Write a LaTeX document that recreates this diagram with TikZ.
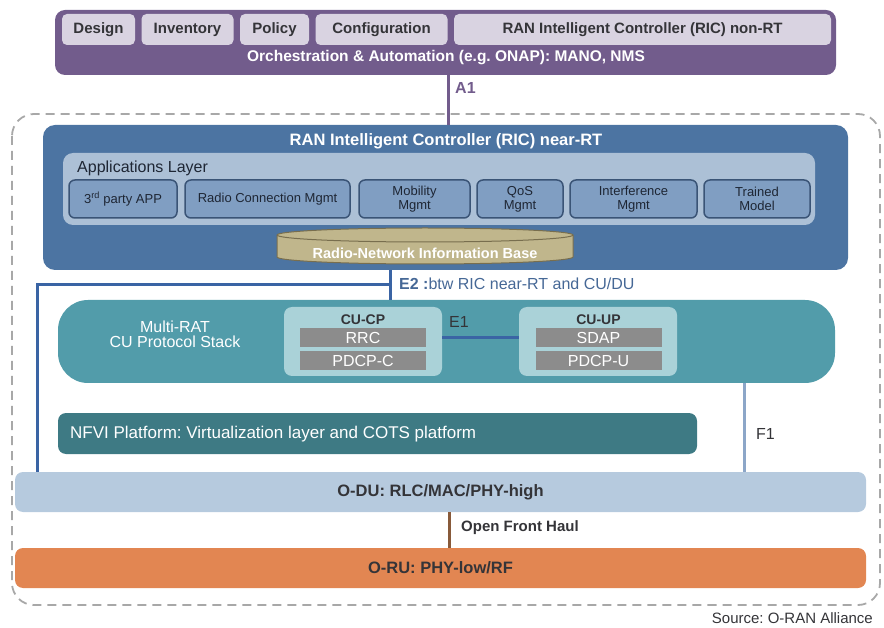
\documentclass[tikz,border=0pt]{standalone}
\usepackage{fontspec}
\setmainfont{Liberation Sans}
\usetikzlibrary{positioning}
\frenchspacing

\definecolor{orchpurple}{RGB}{114,92,140}
\definecolor{lavender}{RGB}{217,211,225}
\definecolor{darktext}{RGB}{52,52,56}
\definecolor{dashgray}{RGB}{168,168,168}
\definecolor{ricblue}{RGB}{76,116,162}
\definecolor{layerblue}{RGB}{172,192,214}
\definecolor{appfill}{RGB}{128,158,194}
\definecolor{appedge}{RGB}{58,84,118}
\definecolor{apptext}{RGB}{30,38,52}
\definecolor{rnibtan}{RGB}{192,182,140}
\definecolor{rnibedge}{RGB}{120,110,78}
\definecolor{e2blue}{RGB}{58,100,164}
\definecolor{e2text}{RGB}{70,104,150}
\definecolor{cuteal}{RGB}{82,156,170}
\definecolor{culight}{RGB}{170,210,216}
\definecolor{stackgray}{RGB}{140,140,140}
\definecolor{nfviteal}{RGB}{62,122,132}
\definecolor{f1blue}{RGB}{140,166,200}
\definecolor{odublue}{RGB}{182,202,222}
\definecolor{fhbrown}{RGB}{136,90,58}
\definecolor{oruorange}{RGB}{226,134,82}

\begin{document}
\begin{tikzpicture}[x=1pt,y=-1pt,
    box/.style={rectangle,inner sep=0pt,outer sep=0pt},
    topbox/.style={box,fill=lavender,rounded corners=5pt,minimum height=31pt,
        text=darktext,font=\fontsize{15}{17}\selectfont\bfseries},
    appbox/.style={box,draw=appedge,line width=1.5pt,fill=appfill,rounded corners=6pt,
        minimum height=38pt,align=center,text=apptext,font=\fontsize{13}{14}\selectfont},
    cubox/.style={box,fill=culight,rounded corners=8pt,minimum width=158pt,minimum height=69pt},
    graybox/.style={box,fill=stackgray,minimum width=126pt,minimum height=19pt,
        text=white,font=\fontsize{16}{18}\selectfont},
    wide/.style={box,rounded corners=8pt,minimum width=851pt,minimum height=40pt,
        text=darktext,font=\fontsize{16.5}{18}\selectfont\bfseries},
    link/.style={line width=3pt},
    lbl/.style={inner sep=0pt,font=\fontsize{16}{18}\selectfont}]
\useasboundingbox (0,0) rectangle (884,628);

\draw[dashgray,line width=1.8pt,dash pattern=on 9pt off 6pt,rounded corners=22pt] (12,114) rectangle (880,605);

\node[box,fill=orchpurple,rounded corners=10pt,minimum width=781pt,minimum height=65pt,anchor=north west] (orch) at (55,10) {};
\node[topbox,minimum width=73pt,anchor=north west] (design) at (62,14) {Design};
\node[topbox,minimum width=92pt,right=6.5pt of design] (inventory) {Inventory};
\node[topbox,minimum width=69pt,right=6.5pt of inventory] (policy) {Policy};
\node[topbox,minimum width=132pt,right=6.5pt of policy] (config) {Configuration};
\node[topbox,minimum width=377pt,right=6.5pt of config] (nonrt) {RAN Intelligent Controller (RIC) non-RT};
\node[lbl,text=white,font=\fontsize{15.5}{17}\selectfont\bfseries] (orchlbl) at (446,58) {Orchestration \& Automation (e.g. ONAP): MANO, NMS};

\node[box,fill=ricblue,rounded corners=12pt,minimum width=805pt,minimum height=145pt,anchor=north west] (ric) at (43,125) {};
\node[lbl,text=white,font=\fontsize{16.5}{18}\selectfont\bfseries] (riclbl) at (446,141) {RAN Intelligent Controller (RIC) near-RT};
\node[box,fill=layerblue,rounded corners=10pt,minimum width=752pt,minimum height=72pt,anchor=north west] (applayer) at (63,153) {};
\node[lbl,anchor=west,text=apptext,font=\fontsize{16}{18}\selectfont] (applbl) at (77,168) {Applications Layer};
\foreach \nm/\cx/\w/\txt in {app1/123/108/{3\textsuperscript{rd} party APP},
    app2/267.5/165/{Radio Connection Mgmt}, app3/414.5/111/{Mobility\\Mgmt},
    app4/520/86/{QoS\\Mgmt}, app5/633.5/127/{Interference\\Mgmt}, app6/757/106/{Trained\\Model}}
    \node[appbox,minimum width=\w pt] (\nm) at (\cx,199) {\txt};

\filldraw[fill=rnibtan,draw=rnibedge,line width=1pt] (277,235) -- (277,257)
    arc[start angle=180,end angle=360,x radius=148pt,y radius=7pt] -- (573,235)
    arc[start angle=0,end angle=180,x radius=148pt,y radius=7pt] -- cycle;
\draw[rnibedge,line width=1pt] (277,235) arc[start angle=180,end angle=360,x radius=148pt,y radius=7pt];
\node[lbl,text=white,font=\fontsize{14.5}{16}\selectfont\bfseries] (rnib) at (425,253) {Radio-Network Information Base};

\node[box,fill=cuteal,rounded corners=30pt,minimum width=777pt,minimum height=83pt,anchor=north west] (cu) at (58,300) {};
\node[lbl,align=center,text=white,font=\fontsize{16}{15}\selectfont] (multirat) at (175,334) {Multi-RAT\\CU Protocol Stack};
\node[cubox,anchor=north west] (cucp) at (284,307) {};
\node[lbl,text=darktext,font=\fontsize{14}{16}\selectfont\bfseries] (cucplbl) at (363,320) {CU-CP};
\node[graybox] (rrc) at (363,338) {RRC};
\node[graybox,below=4pt of rrc] (pdcpc) {PDCP-C};
\node[cubox,anchor=north west] (cuup) at (519,307) {};
\node[lbl,text=darktext,font=\fontsize{14}{16}\selectfont\bfseries] (cuuplbl) at (598.5,320) {CU-UP};
\node[graybox] (sdap) at (598.5,338) {SDAP};
\node[graybox,below=4pt of sdap] (pdcpu) {PDCP-U};
\node[lbl,anchor=west,text=darktext] (e1lbl) at (449,322) {E1};

\node[box,fill=nfviteal,rounded corners=8pt,minimum width=639pt,minimum height=41pt,anchor=north west] (nfvi) at (58,413) {};
\node[lbl,anchor=west,text=white,font=\fontsize{17}{19}\selectfont] (nfvilbl) at (70,434) {NFVI Platform: Virtualization layer and COTS platform};

\node[wide,fill=odublue,anchor=north west] (odu) at (15,472) {O-DU: RLC/MAC/PHY-high};
\node[wide,fill=oruorange,anchor=north west] (oru) at (15,548) {O-RU: PHY-low/RF};

\coordinate (a1) at (448,0);
\coordinate (e2) at (390,285);
\coordinate (e2l) at (37,285);
\coordinate (f1) at (744,0);
\coordinate (fh) at (449,0);
\draw[link,orchpurple] (orch.south -| a1) -- (ric.north -| a1);
\node[lbl,anchor=west,text=orchpurple,font=\fontsize{16}{18}\selectfont\bfseries] (a1lbl) at (455,88) {A1};
\draw[link,e2blue] (ric.south -| e2) -- (cu.north -| e2);
\draw[link,e2blue] (e2) -- (e2l) -- (odu.north -| e2l);
\node[lbl,anchor=west,text=e2text] (e2lbl) at (399,284) {\textbf{E2 :}btw RIC near-RT and CU/DU};
\draw[link,e2blue] (cucp.east |- rrc) -- (cuup.west |- rrc);
\draw[link,f1blue] (cu.south -| f1) -- (odu.north -| f1);
\node[lbl,anchor=west,text=darktext] (f1lbl) at (756,434) {F1};
\draw[link,fhbrown] (odu.south -| fh) -- (oru.north -| fh);
\node[lbl,anchor=west,text=darktext,font=\fontsize{15}{17}\selectfont\bfseries] (fhlbl) at (461,528) {Open Front Haul};
\node[lbl,anchor=east,text=darktext,font=\fontsize{15}{17}\selectfont] (src) at (873,618) {Source: O-RAN Alliance};
\end{tikzpicture}
\end{document}
